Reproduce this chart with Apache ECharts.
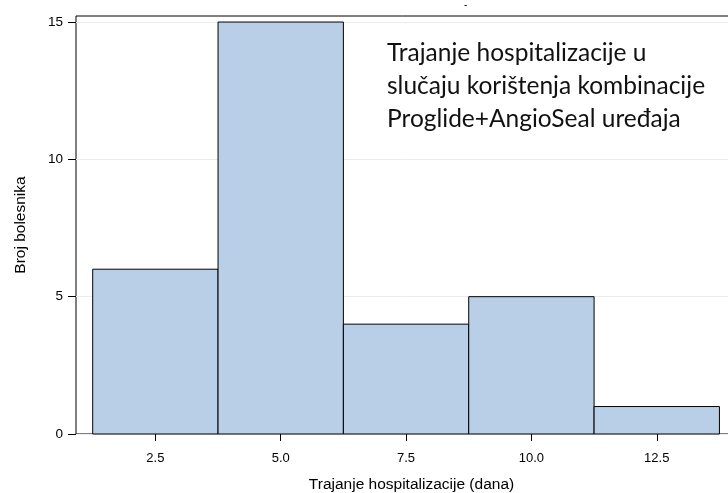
<!DOCTYPE html>
<html>
<head>
<meta charset="utf-8">
<style>
  html, body { margin: 0; padding: 0; background: #fff; }
  #chart { width: 728px; height: 493px; }
</style>
<script src="https://cdn.jsdelivr.net/npm/echarts@6/dist/echarts.min.js"></script>
</head>
<body>
<div id="chart"></div>
<script>
// histogram bins (days) and counts
const binStart = [1.25, 3.75, 6.25, 8.75, 11.25];
const binEnd = [3.75, 6.25, 8.75, 11.25, 13.75];
const counts = [6, 15, 4, 5, 1];
const xTicks = [2.5, 5.0, 7.5, 10.0, 12.5];
const yTicks = [0, 5, 10, 15];
const noteLines = [
  "Trajanje hospitalizacije u",
  "slučaju korištenja kombinacije",
  "Proglide+AngioSeal uređaja"
];

const AX_FONT = "'Liberation Sans Narrow', 'Liberation Sans', Arial, sans-serif";
const BAR = "#b9cfe7";

const chart = echarts.init(document.getElementById("chart"), null, { renderer: "canvas" });
chart.setOption({
  animation: false,
  // frame runs past the right edge of the canvas, as in the reference
  grid: { left: 76, top: 16, right: -19, bottom: 59, outerBoundsMode: "none", containLabel: false,
    show: true, borderColor: "#000", borderWidth: 1, backgroundColor: "transparent" },
  xAxis: {
    type: "value", min: 0.917, max: 14.3,
    name: "Trajanje hospitalizacije (dana)", nameLocation: "middle", nameGap: 43,
    nameTextStyle: { color: "#000", fontFamily: AX_FONT, fontSize: 15.5 },
    axisLine: { show: false },
    axisTick: { show: true, length: 7, customValues: xTicks, lineStyle: { color: "#000" } },
    axisLabel: { customValues: xTicks, color: "#000", fontFamily: AX_FONT, fontSize: 13, margin: 18,
      formatter: v => v.toFixed(1) },
    splitLine: { show: false }
  },
  yAxis: {
    type: "value", min: 0, max: 15.22,
    name: "Broj bolesnika", nameLocation: "middle", nameGap: 47, nameRotate: 90,
    nameTextStyle: { color: "#000", fontFamily: AX_FONT, fontSize: 15.5 },
    axisLine: { show: false },
    axisTick: { show: true, length: 8, customValues: yTicks, lineStyle: { color: "#000" } },
    axisLabel: { customValues: yTicks, color: "#000", fontFamily: AX_FONT, fontSize: 13.5, margin: 13 },
    splitLine: { show: true, lineStyle: { color: "#ececec", width: 1 } }
  },
  series: [{
    type: "custom",
    data: counts.map((c, i) => [binStart[i], binEnd[i], c]),
    encode: { x: [0, 1], y: 2 },
    renderItem: (params, api) => {
      const p0 = api.coord([api.value(0), api.value(2)]);
      const p1 = api.coord([api.value(1), 0]);
      return {
        type: "rect",
        shape: { x: p0[0], y: p0[1], width: p1[0] - p0[0], height: p1[1] - p0[1] },
        style: { fill: BAR, stroke: "#000", lineWidth: 1 }
      };
    }
  }],
  graphic: [
    { type: "text", left: 464, top: 0, style: { text: "-", fontSize: 10, fill: "#000", fontFamily: AX_FONT } },
    { type: "text", left: 387, top: 37, z: 10,
      style: { text: noteLines.join("\n"), fontFamily: "Lato, 'Open Sans', sans-serif", fontSize: 24.5, lineHeight: 33, fill: "#111" } }
  ]
});
</script>
</body>
</html>
